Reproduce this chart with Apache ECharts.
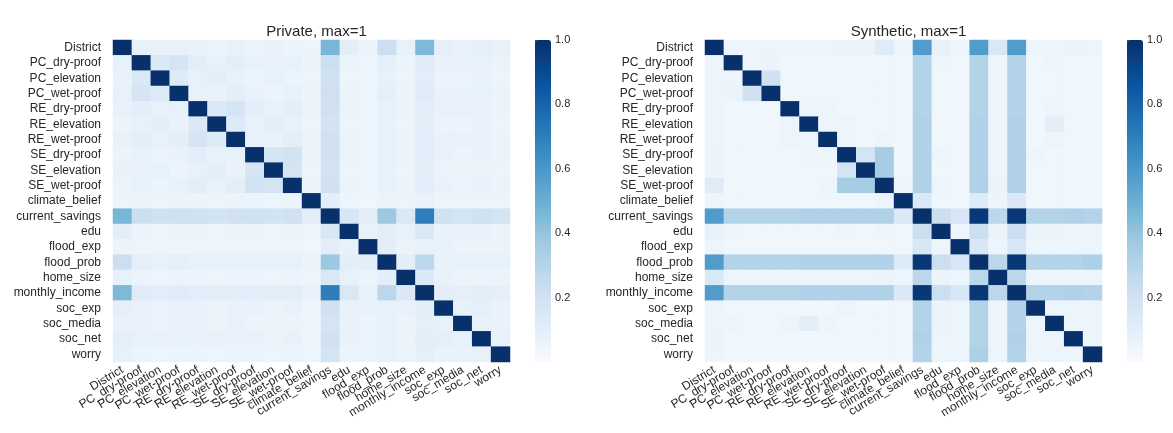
<!DOCTYPE html>
<html>
<head>
<meta charset="utf-8">
<script src="https://cdn.jsdelivr.net/npm/echarts@6/dist/echarts.min.js"></script>
<style>
html,body{margin:0;padding:0;background:#fff;}
#chart{width:1173px;height:433px;}
</style>
</head>
<body>
<div id="chart"></div>
<script>
// ---- data ----
const variables = ["District","PC_dry-proof","PC_elevation","PC_wet-proof","RE_dry-proof","RE_elevation","RE_wet-proof","SE_dry-proof","SE_elevation","SE_wet-proof","climate_belief","current_savings","edu","flood_exp","flood_prob","home_size","monthly_income","soc_exp","soc_media","soc_net","worry"];

// upper triangles (row i holds columns i+1 .. 20); diagonal = 1
const privateUpper = [
  [.08,.07,.08,.07,.06,.07,.06,.07,.06,.05,.47,.10,.06,.22,.08,.45,.09,.07,.09,.08],
  [.14,.17,.10,.08,.10,.08,.07,.08,.06,.22,.06,.05,.09,.06,.12,.07,.07,.08,.06],
  [.13,.08,.10,.08,.06,.08,.06,.05,.20,.05,.05,.08,.05,.11,.06,.06,.07,.05],
  [.08,.07,.10,.07,.06,.08,.06,.21,.06,.05,.09,.06,.12,.07,.07,.08,.06],
  [.14,.17,.10,.08,.10,.06,.20,.06,.05,.08,.06,.11,.07,.07,.07,.06],
  [.13,.08,.10,.08,.05,.19,.05,.05,.08,.05,.10,.06,.06,.07,.05],
  [.08,.07,.10,.06,.20,.06,.05,.08,.06,.11,.07,.07,.07,.06],
  [.17,.19,.06,.20,.06,.05,.08,.06,.11,.07,.06,.07,.06],
  [.18,.05,.19,.05,.05,.08,.05,.10,.06,.06,.06,.05],
  [.06,.20,.06,.05,.08,.06,.11,.07,.06,.07,.06],
  [.10,.05,.04,.06,.05,.07,.05,.05,.05,.05],
  [.16,.10,.38,.15,.70,.20,.18,.20,.18],
  [.08,.10,.08,.15,.07,.07,.07,.06],
  [.10,.06,.08,.07,.06,.06,.06],
  [.10,.28,.08,.08,.08,.08],
  [.14,.07,.06,.06,.06],
  [.10,.09,.10,.09],
  [.08,.09,.07],
  [.08,.07],
  [.08]
];

const syntheticUpper = [
  [.05,.05,.05,.05,.05,.05,.06,.06,.12,.05,.58,.08,.05,.58,.15,.58,.05,.05,.06,.05],
  [.05,.06,.04,.04,.04,.04,.04,.04,.04,.31,.05,.04,.31,.05,.31,.04,.05,.04,.04],
  [.20,.04,.04,.04,.04,.04,.04,.04,.31,.04,.04,.31,.05,.31,.04,.04,.04,.04],
  [.04,.04,.04,.04,.04,.04,.04,.31,.04,.04,.31,.05,.31,.04,.04,.04,.04],
  [.05,.05,.04,.04,.04,.04,.31,.04,.04,.31,.05,.31,.04,.05,.04,.04],
  [.05,.05,.04,.04,.04,.32,.04,.04,.32,.05,.32,.04,.10,.04,.04],
  [.05,.04,.05,.04,.32,.04,.04,.32,.05,.32,.04,.05,.04,.04],
  [.18,.35,.04,.32,.05,.04,.32,.05,.32,.05,.04,.04,.04],
  [.35,.04,.32,.04,.04,.32,.05,.32,.04,.04,.04,.04],
  [.05,.32,.05,.04,.32,.06,.32,.04,.04,.04,.04],
  [.14,.04,.04,.13,.05,.14,.04,.04,.04,.04],
  [.22,.16,.97,.28,.97,.31,.31,.32,.31],
  [.05,.22,.06,.22,.06,.06,.05,.05],
  [.16,.05,.16,.05,.05,.05,.05],
  [.28,.97,.31,.31,.31,.33],
  [.28,.05,.05,.05,.05],
  [.31,.31,.32,.31],
  [.05,.05,.05],
  [.05,.05],
  [.05]
];

const colorbarTicks = [0.2, 0.4, 0.6, 0.8, 1.0];
const titles = ["Private, max=1", "Synthetic, max=1"];
const bluesPalette = ['#f7fbff','#deebf7','#c6dbef','#9ecae1','#6baed6','#4292c6','#2171b5','#08519c','#08306b'];

// ---- build ----
function buildCells(upper) {
  const n = variables.length, out = [];
  for (let i = 0; i < n; i++) {
    for (let j = 0; j < n; j++) {
      let v;
      if (i === j) v = 1;
      else if (i < j) v = upper[i][j - i - 1];
      else v = upper[j][i - j - 1];
      out.push([j, i, v]);
    }
  }
  return out;
}

const FONT = "'Liberation Sans', Arial, Helvetica, sans-serif";
const TXT = '#262626';
const panels = [
  {gridLeft: 113, barLeft: 535, data: buildCells(privateUpper)},
  {gridLeft: 705, barLeft: 1127, data: buildCells(syntheticUpper)}
];
const TOP = 40, W = 397, H = 322;

const option = {
  backgroundColor: '#fff',
  animation: false,
  title: panels.map((p, k) => ({
    text: titles[k],
    left: p.gridLeft + W / 2,
    textAlign: 'center',
    top: 19,
    textStyle: {fontFamily: FONT, fontSize: 15, fontWeight: 'normal', color: TXT}
  })),
  grid: [],
  xAxis: [],
  yAxis: [],
  visualMap: [],
  series: []
};

panels.forEach((p, k) => {
  // heatmap grid
  option.grid.push({left: p.gridLeft, top: TOP, width: W, height: H, containLabel: false});
  option.xAxis.push({
    type: 'category', gridIndex: 2 * k, data: variables,
    axisLine: {show: false}, axisTick: {show: false}, splitLine: {show: false},
    axisLabel: {interval: 0, rotate: 31, margin: 7, fontFamily: FONT, fontSize: 12, color: TXT}
  });
  option.yAxis.push({
    type: 'category', gridIndex: 2 * k, data: variables, inverse: true,
    axisLine: {show: false}, axisTick: {show: false}, splitLine: {show: false},
    axisLabel: {interval: 0, margin: 12, fontFamily: FONT, fontSize: 12, color: TXT}
  });
  // colorbar axis grid
  option.grid.push({left: p.barLeft, top: TOP, width: 16, height: H, containLabel: false});
  option.xAxis.push({type: 'value', gridIndex: 2 * k + 1, show: false, min: 0, max: 1});
  option.yAxis.push({
    type: 'value', gridIndex: 2 * k + 1, min: 0, max: 1, interval: 0.2, position: 'right',
    axisLine: {show: false}, splitLine: {show: false},
    axisTick: {show: true, length: 4, customValues: colorbarTicks, lineStyle: {color: TXT, width: 1}},
    axisLabel: {
      margin: 4, fontFamily: FONT, fontSize: 11, color: TXT, customValues: colorbarTicks,
      formatter: v => colorbarTicks.some(t => Math.abs(t - v) < 1e-6) ? Number(v).toFixed(1) : ''
    }
  });
  option.visualMap.push({
    type: 'continuous', seriesIndex: k, min: 0, max: 1,
    calculable: false, show: true, orient: 'vertical',
    left: p.barLeft, top: TOP, itemWidth: 16, itemHeight: H, padding: 0,
    text: null, showLabel: false,
    inRange: {color: bluesPalette}
  });
  option.series.push({
    type: 'heatmap', xAxisIndex: 2 * k, yAxisIndex: 2 * k, data: p.data,
    itemStyle: {borderWidth: 0},
    emphasis: {disabled: true},
    progressive: 0
  });
});

const chart = echarts.init(document.getElementById('chart'), null, {renderer: 'canvas'});
chart.setOption(option);
</script>
</body>
</html>
